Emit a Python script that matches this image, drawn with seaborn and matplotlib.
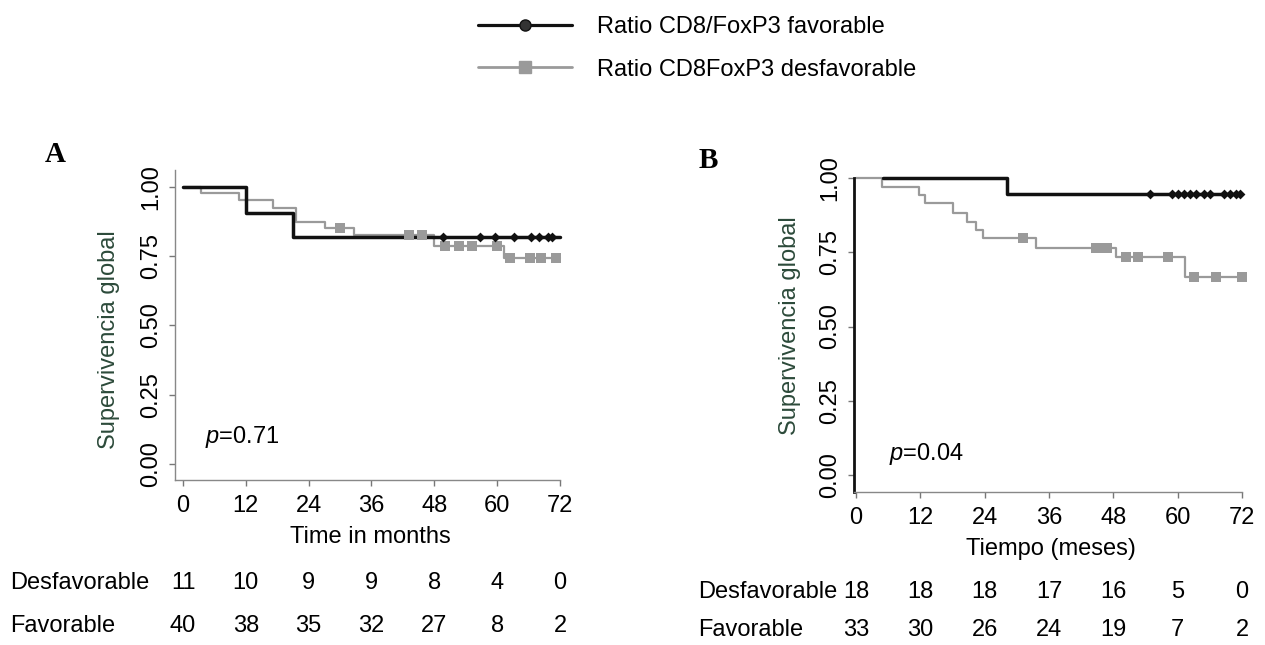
import numpy as np
import pandas as pd
import matplotlib
matplotlib.use('Agg')
import matplotlib.pyplot as plt
from matplotlib.lines import Line2D
from matplotlib.transforms import blended_transform_factory
import seaborn as sns

# ==== data ====
# panel A
a_fav_t = [0, 12, 21, 72]
a_fav_s = [1.0, 0.905, 0.82, 0.82]
a_fav_cens = [49.7, 56.7, 59.6, 63.2, 66.5, 68.0, 69.8, 70.5]

a_desf_t = [0, 3.4, 10.7, 17.2, 21.6, 27.1, 32.6, 47.9, 61.3, 72]
a_desf_s = [1.0, 0.977, 0.951, 0.923, 0.875, 0.851, 0.826, 0.786, 0.742, 0.742]
a_desf_cens = [30.0, 43.2, 45.7, 50.1, 52.7, 55.2, 60.0, 62.5, 66.2, 68.3, 71.2]

# panel B
b_fav_t = [5.1, 28.2, 72]
b_fav_s = [1.0, 0.946, 0.946]
b_fav_cens = [54.9, 59.0, 60.1, 61.2, 62.3, 63.4, 64.9, 66.0, 68.7, 69.8, 70.9, 71.6]

b_desf_t = [0, 4.85, 11.7, 12.8, 18.1, 20.7, 22.4, 23.7, 33.6, 48.5, 61.3, 72]
b_desf_s = [1.0, 0.971, 0.943, 0.915, 0.883, 0.853, 0.825, 0.797, 0.763, 0.735, 0.668, 0.668]
b_desf_cens = [31.1, 44.8, 45.9, 46.8, 50.4, 52.6, 58.2, 63.1, 67.2, 72.0]

# numbers at risk
time_ticks = [0, 12, 24, 36, 48, 60, 72]
surv_ticks = [0.0, 0.25, 0.5, 0.75, 1.0]
a_risk_desf = [11, 10, 9, 9, 8, 4, 0]
a_risk_fav = [40, 38, 35, 32, 27, 8, 2]
b_risk_desf = [18, 18, 18, 17, 16, 5, 0]
b_risk_fav = [33, 30, 26, 24, 19, 7, 2]

BLACK = '#111111'
GRAY = '#9a9a9a'
FS = 17

sns.set_theme(style='white')
plt.rcParams['font.family'] = ['Liberation Sans', 'DejaVu Sans']
plt.rcParams['mathtext.fontset'] = 'custom'
plt.rcParams['mathtext.it'] = 'Liberation Sans:italic'
plt.rcParams['mathtext.rm'] = 'Liberation Sans'
plt.rcParams['text.color'] = 'black'
plt.rcParams['axes.labelcolor'] = 'black'
plt.rcParams['xtick.labelcolor'] = 'black'
plt.rcParams['ytick.labelcolor'] = 'black'


def step_value(t, s, x):
    idx = np.searchsorted(t, x, side='right') - 1
    return np.asarray(s)[idx]


def draw_km(ax, t, s, cens, color, lw, marker, ms):
    df = pd.DataFrame({'t': t, 's': s})
    sns.lineplot(data=df, x='t', y='s', ax=ax, color=color, lw=lw,
                 drawstyle='steps-post', estimator=None, sort=False)
    cdf = pd.DataFrame({'t': cens, 's': step_value(t, s, cens)})
    sns.scatterplot(data=cdf, x='t', y='s', ax=ax, color=color, marker=marker,
                    s=ms ** 2, linewidth=0, zorder=4)


fig = plt.figure(figsize=(12.65, 6.45), dpi=100)

# pixel layout of the two panels
axA = fig.add_axes([175 / 1265, 1 - 480 / 645, 390.2 / 1265, 310 / 645])
axB = fig.add_axes([854 / 1265, 1 - 492 / 645, 393.3 / 1265, 319.9 / 645])

draw_km(axA, a_desf_t, a_desf_s, a_desf_cens, GRAY, 1.6, 's', 7)
draw_km(axA, a_fav_t, a_fav_s, a_fav_cens, BLACK, 2.5, 'D', 5)
draw_km(axB, b_desf_t, b_desf_s, b_desf_cens, GRAY, 1.6, 's', 7)
draw_km(axB, b_fav_t, b_fav_s, b_fav_cens, BLACK, 2.5, 'D', 5)

axA.set_xlim(-1.53, 73)
axA.set_ylim(-0.058, 1.061)
axB.set_xlim(-0.37, 73)
axB.set_ylim(-0.057, 1.02)

for ax, xlab, risk_d, risk_f, ycol, rows, txt_x, pval, ppos in [
        (axA, 'Time in months', a_risk_desf, a_risk_fav, '#888888', (583, 626), 10,
         r'$\it{p}$=0.71', (4.2, 0.097)),
        (axB, 'Tiempo (meses)', b_risk_desf, b_risk_fav, BLACK, (592, 630), 698,
         r'$\it{p}$=0.04', (6.2, 0.072))]:
    sns.despine(ax=ax)
    ax.spines['bottom'].set_bounds(ax.get_xlim()[0], 72)
    ax.spines['bottom'].set_color('#888888')
    ax.spines['bottom'].set_linewidth(1.0)
    ax.spines['left'].set_color(ycol)
    ax.spines['left'].set_linewidth(1.0 if ax is axA else 2.0)
    if ax is axB:
        ax.spines['left'].set_bounds(ax.get_ylim()[0], 1.0)
    ax.set_xticks(time_ticks)
    ax.set_yticks(surv_ticks)
    ax.set_yticklabels(['0.00', '0.25', '0.50', '0.75', '1.00'])
    ax.tick_params(axis='x', direction='out', length=4, width=1, colors='#777777',
                   labelcolor='black', labelsize=FS, pad=7, bottom=True)
    ax.tick_params(axis='y', direction='out', length=4, width=1, colors='#777777',
                   labelcolor='black', labelsize=FS, pad=5, labelrotation=90, left=True)
    for lab in ax.get_yticklabels():
        lab.set_va('center')
    ax.set_xlabel(xlab, fontsize=FS, labelpad=6, color='black')
    ax.set_ylabel('Supervivencia global', fontsize=FS, color='#2c4a3a')
    ax.text(ppos[0], ppos[1], pval, fontsize=FS, va='center', ha='left', color='black')

    # numbers at risk table
    tr = blended_transform_factory(ax.transData, fig.transFigure)
    fig.text(txt_x / 1265, 1 - rows[0] / 645, 'Desfavorable', fontsize=FS, va='center')
    fig.text(txt_x / 1265, 1 - rows[1] / 645, 'Favorable', fontsize=FS, va='center')
    for x, d, f in zip(time_ticks, risk_d, risk_f):
        ax.text(x, 1 - rows[0] / 645, str(d), transform=tr, fontsize=FS,
                ha='center', va='center')
        ax.text(x, 1 - rows[1] / 645, str(f), transform=tr, fontsize=FS,
                ha='center', va='center')

axA.yaxis.set_label_coords(-0.140, 0.452)
axB.yaxis.set_label_coords(-0.134, 0.52)

fig.text(55 / 1265, 1 - 155 / 645, 'A', fontsize=21, fontweight='bold',
         family='Liberation Serif', ha='center', va='center')
fig.text(708 / 1265, 1 - 160 / 645, 'B', fontsize=21, fontweight='bold',
         family='Liberation Serif', ha='center', va='center')

handles = [
    Line2D([], [], color=BLACK, lw=2.3, marker='o', ms=8, mfc='#333333', mec=BLACK),
    Line2D([], [], color=GRAY, lw=2.0, marker='s', ms=8, mfc=GRAY, mec=GRAY),
]
labels = ['Ratio CD8/FoxP3 favorable', 'Ratio CD8FoxP3 desfavorable']
fig.legend(handles, labels, loc='center left', bbox_to_anchor=(478 / 1265, 1 - 48.5 / 645),
           frameon=False, fontsize=FS, handlelength=4.0, handletextpad=1.05,
           labelspacing=0.85, borderpad=0, borderaxespad=0, numpoints=1,
           labelcolor='black')

fig.savefig('out.png', dpi=100)
